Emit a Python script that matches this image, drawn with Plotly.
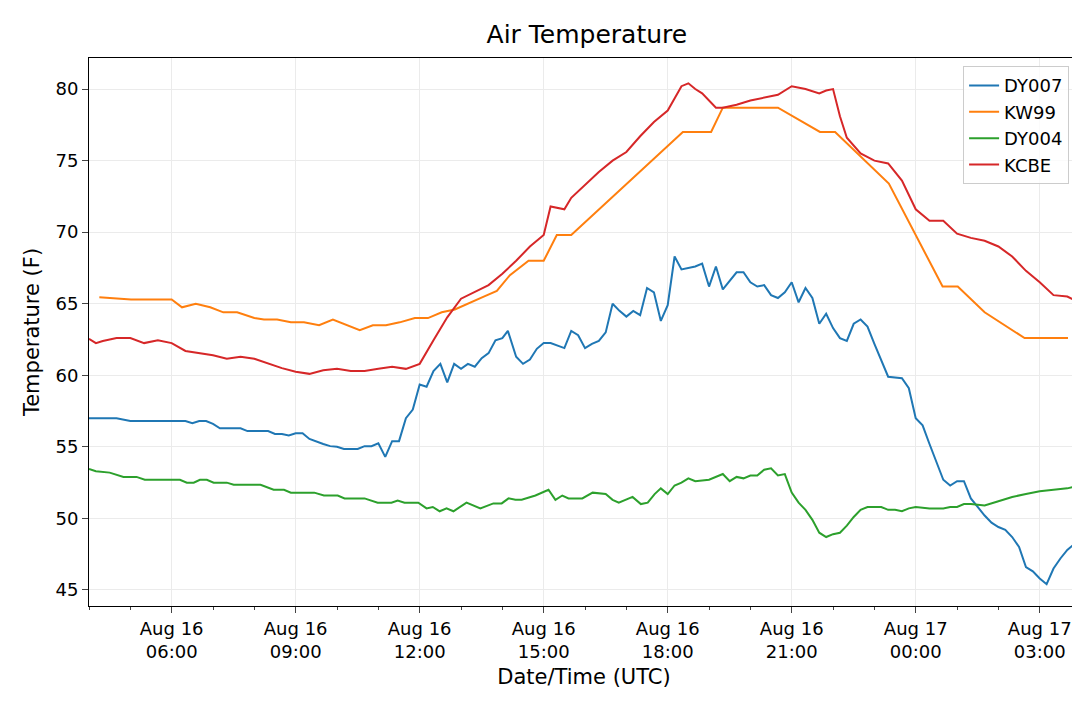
import plotly.graph_objects as go
import pandas as pd

# DY007 (blue)
dy007_t = ["04:00", "04:40", "05:00", "06:00", "06:20", "06:30", "06:40", "06:50", "07:00", "07:10",
           "07:40", "07:50", "08:20", "08:30", "08:40", "08:50", "09:00", "09:10", "09:20", "09:40",
           "09:50", "10:00", "10:10", "10:30", "10:40", "10:50", "11:00", "11:10", "11:20", "11:30",
           "11:40", "11:50", "12:00", "12:10", "12:20", "12:30", "12:40", "12:50", "13:00", "13:10",
           "13:20", "13:30", "13:40", "13:50", "14:00", "14:08", "14:20", "14:30", "14:40", "14:50",
           "15:00", "15:10", "15:20", "15:30", "15:40", "15:50", "16:00", "16:10", "16:20", "16:30",
           "16:40", "16:50", "17:00", "17:10", "17:20", "17:30", "17:40", "17:50", "18:00", "18:10",
           "18:20", "18:40", "18:50", "19:00", "19:10", "19:20", "19:40", "19:50", "20:00", "20:10",
           "20:20", "20:30", "20:40", "20:50", "21:00", "21:10", "21:20", "21:30", "21:40", "21:50",
           "22:00", "22:10", "22:20", "22:30", "22:40", "22:50", "23:00", "23:20", "23:40", "23:50",
           "00:00", "00:10", "00:20", "00:40", "00:50", "01:00", "01:10", "01:20", "01:40", "01:50",
           "02:00", "02:10", "02:20", "02:30", "02:40", "02:50", "03:00", "03:10", "03:20", "03:30",
           "03:40", "03:50", "03:57"]
dy007_v = [57.0, 57.0, 56.8, 56.8, 56.8, 56.65, 56.8, 56.8, 56.6, 56.3,
           56.3, 56.1, 56.1, 55.9, 55.9, 55.8, 55.95, 55.95, 55.55, 55.2,
           55.05, 55.0, 54.85, 54.85, 55.05, 55.05, 55.25, 54.3, 55.4, 55.4,
           57.0, 57.6, 59.35, 59.2, 60.3, 60.8, 59.5, 60.8, 60.45, 60.8,
           60.6, 61.2, 61.55, 62.45, 62.6, 63.1, 61.3, 60.8, 61.1, 61.85,
           62.25, 62.25, 62.1, 61.9, 63.1, 62.8, 61.9, 62.2, 62.4, 63.0,
           65.0, 64.5, 64.1, 64.5, 64.2, 66.1, 65.8, 63.8, 64.9, 68.3,
           67.4, 67.6, 67.8, 66.2, 67.6, 66.0, 67.2, 67.2, 66.5, 66.2,
           66.3, 65.6, 65.4, 65.8, 66.5, 65.1, 66.1, 65.4, 63.6, 64.3,
           63.3, 62.6, 62.4, 63.6, 63.9, 63.4, 62.2, 59.9, 59.8, 59.1,
           57.0, 56.5, 55.2, 52.7, 52.3, 52.6, 52.6, 51.4, 50.2, 49.7,
           49.4, 49.2, 48.7, 48.0, 46.6, 46.3, 45.8, 45.4, 46.5, 47.2,
           47.8, 48.2, 48.6]

# KW99 (orange)
kw99_t = ["04:15", "05:01", "06:00", "06:15", "06:35", "06:56", "07:15", "07:35", "08:00", "08:14",
          "08:33", "08:53", "09:12", "09:34", "09:54", "10:33", "10:52", "11:11", "11:31", "11:53",
          "12:12", "12:32", "12:51", "13:13", "13:33", "13:52", "14:11", "14:38", "15:00", "15:19",
          "15:40", "18:22", "19:03", "19:20", "20:40", "21:41", "22:03", "23:21", "00:39", "01:01",
          "01:40", "02:38", "03:41"]
kw99_v = [65.45, 65.3, 65.3, 64.75, 65.0, 64.75, 64.4, 64.4, 64.0, 63.9,
          63.9, 63.7, 63.7, 63.5, 63.9, 63.15, 63.5, 63.5, 63.7, 64.0,
          64.0, 64.4, 64.6, 65.1, 65.5, 65.9, 67.0, 68.0, 68.0, 69.8,
          69.8, 77.0, 77.0, 78.7, 78.7, 77.0, 77.0, 73.4, 66.2, 66.2,
          64.4, 62.6, 62.6]

# DY004 (green)
dy004_t = ["04:00", "04:10", "04:30", "04:50", "05:09", "05:21", "06:12", "06:22", "06:32", "06:41",
           "06:51", "07:01", "07:20", "07:30", "08:09", "08:28", "08:43", "08:53", "09:27", "09:41",
           "10:01", "10:11", "10:40", "10:59", "11:19", "11:28", "11:38", "11:58", "12:10", "12:19",
           "12:29", "12:39", "12:49", "13:08", "13:28", "13:47", "13:59", "14:09", "14:19", "14:28",
           "14:48", "15:07", "15:17", "15:27", "15:36", "15:56", "16:11", "16:30", "16:40", "16:49",
           "17:09", "17:21", "17:31", "17:41", "17:50", "18:00", "18:10", "18:20", "18:30", "18:40",
           "19:00", "19:10", "19:20", "19:30", "19:40", "19:50", "20:00", "20:10", "20:20", "20:30",
           "20:40", "20:50", "21:00", "21:10", "21:20", "21:30", "21:40", "21:50", "22:00", "22:10",
           "22:20", "22:30", "22:40", "22:50", "23:00", "23:10", "23:20", "23:30", "23:40", "23:50",
           "00:00", "00:20", "00:40", "00:50", "01:00", "01:10", "01:20", "01:40", "02:00", "02:20",
           "02:40", "03:00", "03:20", "03:40", "03:57"]
dy004_v = [53.45, 53.3, 53.2, 52.9, 52.9, 52.7, 52.7, 52.5, 52.5, 52.7,
           52.7, 52.5, 52.5, 52.35, 52.35, 52.0, 52.0, 51.8, 51.8, 51.6,
           51.6, 51.4, 51.4, 51.1, 51.1, 51.25, 51.1, 51.1, 50.7, 50.8,
           50.5, 50.7, 50.5, 51.1, 50.7, 51.05, 51.05, 51.4, 51.3, 51.3,
           51.6, 52.0, 51.3, 51.6, 51.4, 51.4, 51.8, 51.7, 51.3, 51.1,
           51.5, 51.0, 51.1, 51.7, 52.1, 51.7, 52.3, 52.5, 52.8, 52.6,
           52.7, 52.9, 53.1, 52.6, 52.9, 52.8, 53.0, 53.0, 53.4, 53.5,
           53.0, 53.1, 51.8, 51.1, 50.6, 49.9, 49.0, 48.7, 48.9, 49.0,
           49.5, 50.1, 50.6, 50.8, 50.8, 50.8, 50.6, 50.6, 50.5, 50.7,
           50.8, 50.7, 50.7, 50.8, 50.8, 51.0, 51.0, 50.9, 51.2, 51.5,
           51.7, 51.9, 52.0, 52.1, 52.3]

# KCBE (red)
kcbe_t = ["04:00", "04:10", "04:20", "04:40", "05:00", "05:20", "05:40", "06:00", "06:20", "06:40",
          "07:00", "07:20", "07:40", "08:00", "08:20", "08:40", "09:00", "09:20", "09:40", "10:00",
          "10:20", "10:40", "11:00", "11:20", "11:40", "12:00", "12:20", "12:40", "13:00", "13:20",
          "13:40", "14:00", "14:20", "14:40", "15:00", "15:10", "15:20", "15:30", "15:40", "16:00",
          "16:20", "16:40", "17:00", "17:20", "17:40", "18:00", "18:20", "18:30", "18:40", "18:50",
          "19:00", "19:10", "19:20", "19:40", "20:00", "20:20", "20:40", "21:00", "21:20", "21:40",
          "21:50", "22:00", "22:10", "22:20", "22:40", "23:00", "23:10", "23:20", "23:40", "00:00",
          "00:20", "00:40", "01:00", "01:20", "01:40", "02:00", "02:20", "02:40", "03:00", "03:20",
          "03:40", "03:57"]
kcbe_v = [62.55, 62.25, 62.4, 62.6, 62.6, 62.25, 62.45, 62.25, 61.7, 61.55,
          61.4, 61.15, 61.3, 61.15, 60.8, 60.5, 60.25, 60.1, 60.35, 60.45,
          60.3, 60.3, 60.45, 60.6, 60.45, 60.8, 62.45, 64.05, 65.35, 65.8,
          66.3, 67.1, 68.0, 69.0, 69.8, 71.8, 71.7, 71.6, 72.4, 73.3,
          74.2, 75.0, 75.6, 76.7, 77.7, 78.5, 80.2, 80.4, 80.0, 79.7,
          79.2, 78.7, 78.7, 78.9, 79.2, 79.4, 79.6, 80.2, 80.0, 79.7,
          79.9, 80.0, 78.1, 76.6, 75.5, 75.0, 74.9, 74.8, 73.6, 71.6,
          70.8, 70.8, 69.9, 69.6, 69.4, 69.0, 68.3, 67.3, 66.5, 65.6,
          65.5, 65.1]

tick_vals = ["06:00", "09:00", "12:00", "15:00", "18:00", "21:00", "00:00", "03:00"]


def to_dt(hhmm):
    # times before 04:00 belong to the next day
    day = "2019-08-17" if int(hhmm[:2]) < 4 else "2019-08-16"
    return pd.Timestamp(day + " " + hhmm)


series = [("DY007", dy007_t, dy007_v, "#1f77b4"),
          ("KW99", kw99_t, kw99_v, "#ff7f0e"),
          ("DY004", dy004_t, dy004_v, "#2ca02c"),
          ("KCBE", kcbe_t, kcbe_v, "#d62728")]

fig = go.Figure()
for name, t, v, color in series:
    fig.add_trace(go.Scatter(x=[to_dt(s) for s in t], y=v, mode="lines", name=name,
                             line=dict(color=color, width=2)))

ticks = [to_dt(s) for s in tick_vals]
fig.update_xaxes(range=[to_dt("04:00"), to_dt("03:57")],
                 tickvals=ticks, ticktext=[d.strftime("%b %d<br>%H:%M") for d in ticks],
                 showgrid=True, gridcolor="#ebebeb", ticks="outside", ticklen=6,
                 showline=True, linecolor="black", mirror=True, automargin=False,
                 minor=dict(dtick=3600000, ticks="outside", ticklen=3, showgrid=False),
                 title=dict(text="Date/Time (UTC)", font=dict(size=21), standoff=8),
                 tickfont=dict(size=18))
fig.update_yaxes(range=[43.88, 82.17], tickvals=[45, 50, 55, 60, 65, 70, 75, 80],
                 showgrid=True, gridcolor="#ebebeb", ticks="outside", ticklen=6,
                 showline=True, linecolor="black", mirror=True, zeroline=False, automargin=False,
                 title=dict(text="Temperature (F)", font=dict(size=21), standoff=10),
                 tickfont=dict(size=18))

fig.update_layout(
    title=dict(text="Air Temperature", x=0.536, y=0.975, xanchor="center", font=dict(size=25, color="black")),
    font=dict(family="DejaVu Sans", color="black"),
    plot_bgcolor="white", paper_bgcolor="white",
    width=1080, height=702,
    margin=dict(l=81, r=9, t=50, b=104),
    legend=dict(x=0.99, y=0.985, xanchor="right", yanchor="top", bordercolor="#cccccc",
                borderwidth=1, font=dict(size=18), bgcolor="rgba(255,255,255,0.8)"),
)

fig.write_html("out.html")
